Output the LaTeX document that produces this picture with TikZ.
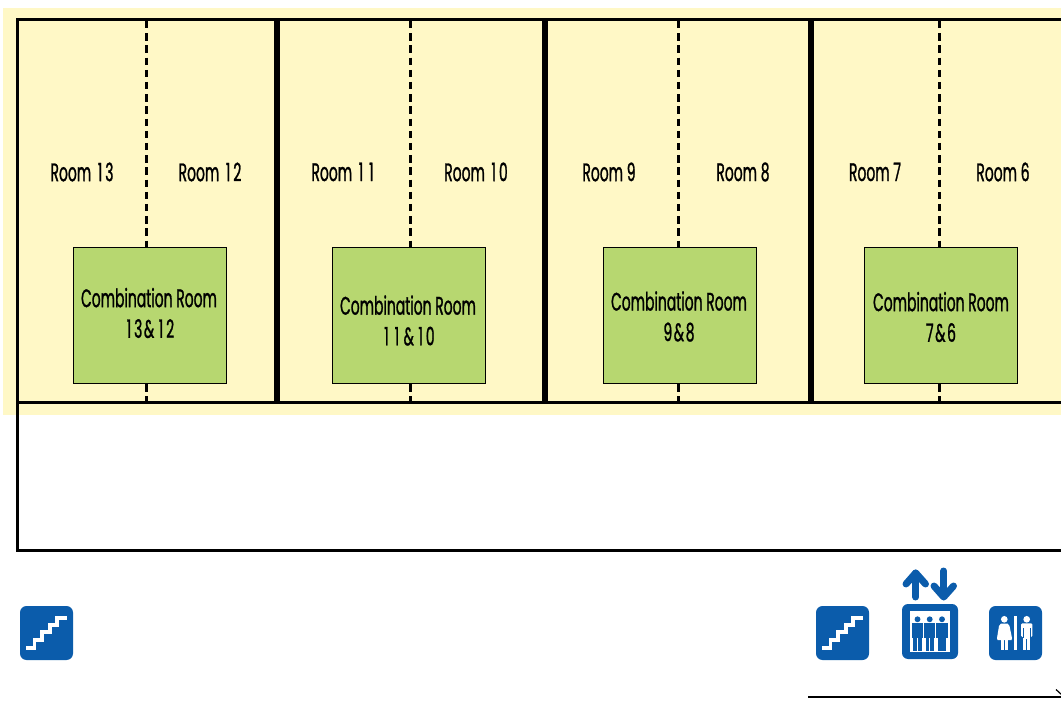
\documentclass[tikz,border=0pt]{standalone}
\usepackage{fontspec}
\setmainfont[FakeStretch=0.55,FakeBold=1]{Poppins}
\definecolor{bgyellow}{HTML}{FFF8C6}
\definecolor{boxgreen}{HTML}{B7D770}
\definecolor{signblue}{HTML}{0B5CAB}
\newcommand{\dg}{\kern2.2pt 1\kern2.2pt}
\newcommand{\amp}{\kern1.2pt\&\kern1.2pt}
\newcommand{\stairsign}[2]{%
  \begin{scope}[shift={(#1,#2)}]
    \fill[signblue,rounded corners=6.5*0.75pt] (0,0) rectangle (53,54);
    \draw[white,line width=3.8*0.75pt,line join=miter]
      (6.3,42.3) -- (14.5,42.3) -- (14.5,34) -- (22,34) -- (22,25.7) -- (29.7,25.7)
      -- (29.7,18.6) -- (37.3,18.6) -- (37.3,11.8) -- (46.5,11.8);
  \end{scope}}
\newcommand{\liftperson}[1]{%
  \begin{scope}[shift={(#1,0)}]
    \fill[signblue] (0,619.3) circle[radius=2.2pt];
    \fill[signblue] (-5.7,622.7) rectangle (5.7,638);
    \fill[signblue] (-4.1,638) rectangle (-0.4,650.7);
    \fill[signblue] (0.4,638) rectangle (4.1,650.7);
  \end{scope}}
\tikzset{
  x=0.75pt,y=-0.75pt,
  wall/.style={line width=3*0.75pt,draw=black},
  thickwall/.style={line width=5.6*0.75pt,draw=black},
  divider/.style={line width=3*0.75pt,draw=black,dash pattern=on 7.5*0.75pt off 4.7*0.75pt},
  roomlabel/.style={font=\fontsize{19}{20}\selectfont,text=black,inner sep=0pt,anchor=center},
  combobox/.style={draw=black,line width=1.2*0.75pt,fill=boxgreen,minimum width=153*0.75pt,minimum height=136*0.75pt,anchor=north west,inner sep=0pt},
  combolabel/.style={font=\fontsize{19}{23}\selectfont,text=black,align=center,inner sep=0pt,anchor=center},
  liftarrow/.style={line width=7*0.75pt,draw=signblue,line cap=round,line join=round},
}
\begin{document}
\begin{tikzpicture}
\useasboundingbox (0,0) rectangle (1061,702);
\clip (0,0) rectangle (1061,702);
\fill[bgyellow] (3,8) rectangle (1061,415);
% frame
\draw[wall] (1062,19.5) -- (17,19.5) -- (17,550) -- (1062,550);
\draw[wall] (17,403) -- (1062,403);
\foreach \x/\n in {277/a,545/b,811/c}
  \draw[thickwall] (\x,19.5) -- (\x,403);
% combination boxes
\node[combobox] (c1) at (73,247) {};
\node[combobox] (c2) at (332,247) {};
\node[combobox] (c3) at (603,247) {};
\node[combobox] (c4) at (864,247) {};
% dividers
\foreach \i/\x in {1/146,2/410,3/678,4/939}{
  \coordinate (t\i) at (\x,21);
  \coordinate (b\i) at (\x,403);
  \draw[divider] (t\i) -- (t\i |- c\i.north);
  \draw[divider] (t\i |- c\i.south) -- (b\i);
}
% labels
\node[roomlabel] (r13) at (82,172) {Room \dg3};
\node[roomlabel] (r12) at (210,172) {Room \dg2};
\node[roomlabel] (r11) at (344,172) {Room \dg\dg};
\node[roomlabel] (r10) at (476,172) {Room \dg0};
\node[roomlabel] (r9) at (609,172) {Room 9};
\node[roomlabel] (r8) at (743,172) {Room 8};
\node[roomlabel] (r7) at (875,172) {Room 7};
\node[roomlabel] (r6) at (1003,172) {Room 6};
\node[combolabel] (l1) at (149,313) {Combination Room\\\dg3\amp\dg2};
\node[combolabel] (l2) at (408,320.5) {Combination Room\\\dg\dg\amp\dg0};
\node[combolabel] (l3) at (679,316.5) {Combination Room\\9\amp8};
\node[combolabel] (l4) at (941,317) {Combination Room\\7\amp6};
% stairs
\stairsign{20}{606}
\stairsign{816}{606}
% elevator
\fill[signblue,rounded corners=6*0.75pt] (902,604) rectangle (958,659);
\fill[white] (910,611) rectangle (950,652);
\liftperson{917.5}\liftperson{929.7}\liftperson{942}
\draw[liftarrow] (915.7,597) -- (915.7,573);
\draw[liftarrow] (906,584) -- (915.7,573) -- (925.5,584);
\draw[liftarrow] (943.7,571) -- (943.7,596);
\draw[liftarrow] (934,586) -- (943.7,597) -- (953.5,586);
% restroom
\fill[signblue,rounded corners=6.5*0.75pt] (989,606) rectangle (1042,660);
\fill[white] (1014.3,616) rectangle (1016.6,650);
\fill[white] (1004.3,619.3) circle[radius=2.5pt];
\fill[white] (1001,623.5) -- (1007.6,623.5) -- (1009.5,626) -- (1012,638) -- (1011.5,640) -- (997.5,640) -- (997,638) -- (999,626) -- cycle;
\fill[white] (1001,640) rectangle (1004,649.5);
\fill[white] (1005,640) rectangle (1008,649.5);
\fill[white] (1026.7,619.3) circle[radius=2.5pt];
\fill[white,rounded corners=1pt] (1021,623.3) rectangle (1032.4,637);
\fill[white] (1023.2,630) rectangle (1030.2,649.5);
\fill[signblue] (1026.3,639) rectangle (1027.1,650);
\fill[signblue] (1023,628) rectangle (1023.6,637.5);
\fill[signblue] (1029.8,628) rectangle (1030.4,637.5);
% bottom line
\coordinate (s) at (808,697);
\coordinate (e) at (1062,697);
\draw[line width=1.4*0.75pt] (s) -- (e);
\draw[line width=1.2*0.75pt] (1056,689.5) -- (1062,695);
\end{tikzpicture}
\end{document}
